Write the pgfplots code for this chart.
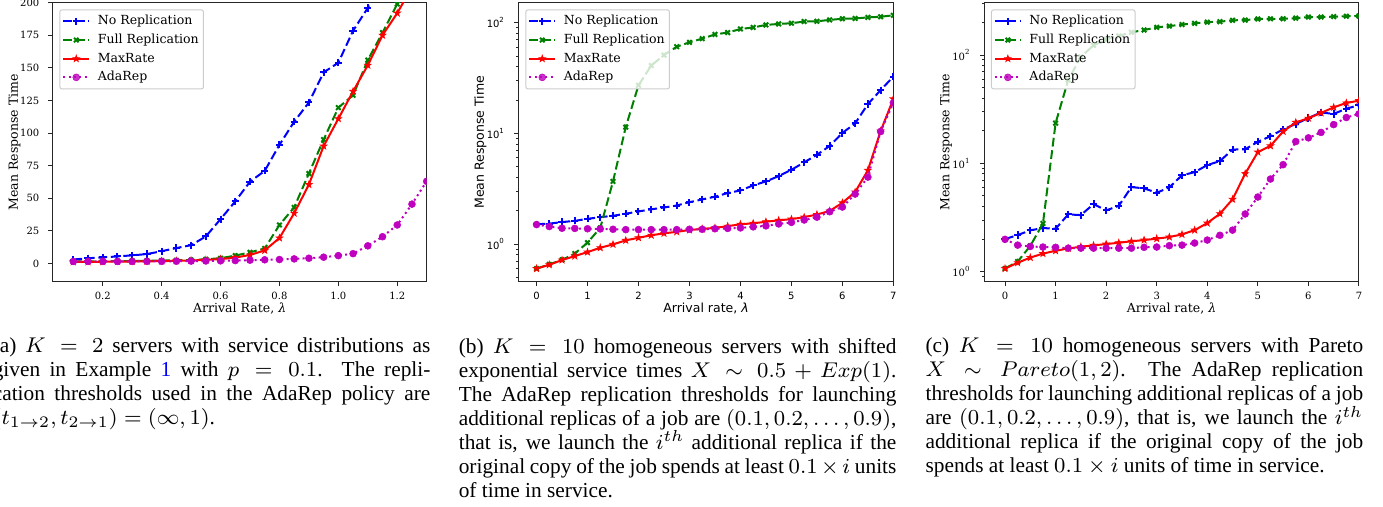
\documentclass[border=0pt]{standalone}
\usepackage{fontspec}
\setmainfont{Liberation Serif}
\newfontfamily\dvserif{DejaVu Serif}
\newfontfamily\dvsans{DejaVu Sans}
\usepackage{pgfplots}
\pgfplotsset{compat=1.18}

\definecolor{mplblue}{rgb}{0,0,1}
\definecolor{mplgreen}{rgb}{0,0.5,0}
\definecolor{mplred}{rgb}{1,0,0}
\definecolor{mplmag}{rgb}{0.75,0,0.75}

\pgfdeclareplotmark{fstar}{%
  \pgfpathmoveto{\pgfpointpolar{90}{\pgfplotmarksize}}%
  \pgfpathlineto{\pgfpointpolar{126}{0.4\pgfplotmarksize}}%
  \pgfpathlineto{\pgfpointpolar{162}{\pgfplotmarksize}}%
  \pgfpathlineto{\pgfpointpolar{198}{0.4\pgfplotmarksize}}%
  \pgfpathlineto{\pgfpointpolar{234}{\pgfplotmarksize}}%
  \pgfpathlineto{\pgfpointpolar{270}{0.4\pgfplotmarksize}}%
  \pgfpathlineto{\pgfpointpolar{306}{\pgfplotmarksize}}%
  \pgfpathlineto{\pgfpointpolar{342}{0.4\pgfplotmarksize}}%
  \pgfpathlineto{\pgfpointpolar{18}{\pgfplotmarksize}}%
  \pgfpathlineto{\pgfpointpolar{54}{0.4\pgfplotmarksize}}%
  \pgfpathclose\pgfusepathqfillstroke}

\newcommand\tickfs{\fontsize{3.75}{4.5}\selectfont}
\newcommand\labfs{\fontsize{4.7}{5.6}\selectfont}

\pgfplotsset{
  mplaxis/.style={
    scale only axis, height=104.625pt, anchor=south west,
    axis line style={black!85, line width=0.37pt},
    tick align=outside, xtick pos=bottom, ytick pos=left,
    major tick length=1.7pt, minor tick length=0.9pt,
    every tick/.style={black!85, line width=0.37pt},
    /pgf/number format/assume math mode=true,
    xticklabel style={yshift=1.4pt},
    yticklabel style={xshift=0.2pt},
    xlabel style={at={(axis description cs:0.5,-0.0946)}, anchor=center},
    ylabel style={at={(axis description cs:-0.102,0.5)}, anchor=center},
    legend style={at={(0,1)}, anchor=north west, xshift=2.5pt, yshift=-2.5pt,
      draw=black!20, line width=0.37pt, rounded corners=0.8pt, fill=white,
      fill opacity=0.8, text opacity=1, font=\labfs\dvserif,
      inner xsep=0.9pt, inner ysep=1.2pt, row sep=0.75pt, column sep=1.95pt,
      nodes={inner sep=0.9pt, text height=3.5pt, text depth=0.95pt, font=\labfs\dvserif}},
    legend cell align=left,
    legend image code/.code={\draw[mark repeat=2,mark phase=2,##1]
      plot coordinates {(0pt,0pt)(4.875pt,0pt)(9.75pt,0pt)};},
    clip marker paths=true,
  },
  noRep/.style={mplblue, line width=0.75pt, dash pattern=on 3.3pt off 1.4pt,
    mark=+, mark size=1.35pt, mark options={solid, line width=0.75pt}},
  fullRep/.style={mplgreen, line width=0.75pt, dash pattern=on 3.3pt off 1.4pt,
    mark=x, mark size=1.2pt, mark options={solid, line width=0.75pt}},
  maxRate/.style={mplred, line width=0.75pt, solid,
    mark=fstar, mark size=1.25pt, mark options={solid, line width=0.3pt, fill=mplred}},
  adaRep/.style={mplmag, line width=0.75pt, dash pattern=on 0.75pt off 1.25pt,
    mark=*, mark size=1.3pt, mark options={solid, draw=mplmag, fill=mplmag, line width=0.2pt}},
}

\begin{document}
\begin{tikzpicture}
\path[use as bounding box, clip] (0,0) rectangle (518.625pt,-190.125pt);

% ---------------- (a)
\begin{axis}[mplaxis, at={(19.76pt,-105.64pt)}, width=140.25pt,
  xmin=0.03, xmax=1.3, ymin=-14, ymax=200,
  xtick={0.2,0.4,0.6,0.8,1.0,1.2}, xticklabels={0.2,0.4,0.6,0.8,1.0,1.2},
  ytick={0,25,50,75,100,125,150,175,200},
  tick label style={font=\tickfs\dvserif},
  label style={font=\labfs\dvserif},
  xlabel={Arrival Rate, {\itshape λ}}, ylabel={Mean Response Time}]
\addplot[noRep] coordinates {(0.1,3)(0.15,4)(0.2,4.6)(0.25,5.4)(0.3,6.2)(0.35,7.2)(0.4,9.4)(0.45,11.8)(0.5,14)(0.55,20.7)(0.6,34)(0.65,47.6)(0.7,62.7)(0.75,71)(0.8,91)(0.85,108.7)(0.9,123.5)(0.95,146.5)(1.0,154)(1.05,178.5)(1.1,196)(1.15,220)(1.2,240)};
\addlegendentry{No Replication}
\addplot[fullRep] coordinates {(0.1,1.5)(0.15,1.6)(0.2,1.7)(0.25,1.8)(0.3,1.9)(0.35,2)(0.4,2.2)(0.45,2.4)(0.5,2.7)(0.55,3.2)(0.6,4)(0.65,6)(0.7,8.5)(0.75,11.5)(0.8,29.5)(0.85,43)(0.9,69)(0.95,95)(1.0,119.5)(1.05,129)(1.1,156)(1.15,177)(1.2,199)(1.25,218)(1.3,240)};
\addlegendentry{Full Replication}
\addplot[maxRate] coordinates {(0.1,1.2)(0.15,1.2)(0.2,1.3)(0.25,1.4)(0.3,1.5)(0.35,1.6)(0.4,1.8)(0.45,2.0)(0.5,2.3)(0.55,2.7)(0.6,3.3)(0.65,4.5)(0.7,6.5)(0.75,10)(0.8,19.5)(0.85,38.5)(0.9,60.5)(0.95,90)(1.0,111)(1.05,132)(1.1,152)(1.15,175)(1.2,192)(1.25,212)(1.3,230)};
\addlegendentry{MaxRate}
\addplot[adaRep] coordinates {(0.1,1.5)(0.15,1.5)(0.2,1.5)(0.25,1.5)(0.3,1.5)(0.35,1.6)(0.4,1.6)(0.45,1.7)(0.5,1.8)(0.55,1.9)(0.6,2)(0.65,2.2)(0.7,2.5)(0.75,2.8)(0.8,3)(0.85,3.5)(0.9,4)(0.95,4.8)(1.0,6)(1.05,7.5)(1.1,13.5)(1.15,20.5)(1.2,29.5)(1.25,45.5)(1.3,63)(1.35,85)};
\addlegendentry{AdaRep}
\end{axis}

% ---------------- (b)
\begin{axis}[mplaxis, at={(194.51pt,-105.64pt)}, width=140.5pt,
  ymode=log, xmin=-0.35, xmax=7.0, ymin=0.457, ymax=151.7,
  xtick={0,1,2,3,4,5,6,7},
  ytick={1,10,100}, yticklabels={10\textsuperscript{0},10\textsuperscript{1},10\textsuperscript{2}},
  minor ytick={0.5,0.6,0.7,0.8,0.9,2,3,4,5,6,7,8,9,20,30,40,50,60,70,80,90},
  tick label style={font=\tickfs\dvsans},
  label style={font=\labfs\dvsans},
  xlabel={Arrival rate, {\itshape λ}}, ylabel={Mean Response Time}]
\addplot[noRep] coordinates {(0,1.51)(0.25,1.53)(0.5,1.58)(0.75,1.62)(1.0,1.69)(1.25,1.75)(1.5,1.80)(1.75,1.88)(2.0,1.97)(2.25,2.06)(2.5,2.14)(2.75,2.23)(3.0,2.39)(3.25,2.53)(3.5,2.68)(3.75,2.89)(4.0,3.05)(4.25,3.39)(4.5,3.68)(4.75,4.11)(5.0,4.69)(5.25,5.47)(5.5,6.41)(5.75,7.69)(6.0,10.1)(6.25,12.3)(6.5,18.4)(6.75,24.6)(7.0,32.6)};
\addlegendentry{No Replication}
\addplot[fullRep] coordinates {(0,0.60)(0.25,0.655)(0.5,0.72)(0.75,0.82)(1.0,1.03)(1.25,1.40)(1.5,3.68)(1.75,11.4)(2.0,27.2)(2.25,41)(2.5,51)(2.75,60.7)(3.0,66.5)(3.25,71.8)(3.5,78.4)(3.75,81.5)(4.0,87.7)(4.25,90.6)(4.5,95.5)(4.75,97.5)(5.0,98.9)(5.25,102.5)(5.5,103)(5.75,106)(6.0,108.6)(6.25,109.3)(6.5,111.7)(6.75,113.2)(7.0,116.7)};
\addlegendentry{Full Replication}
\addplot[maxRate] coordinates {(0,0.60)(0.25,0.65)(0.5,0.717)(0.75,0.779)(1.0,0.846)(1.25,0.926)(1.5,0.993)(1.75,1.08)(2.0,1.14)(2.25,1.20)(2.5,1.25)(2.75,1.29)(3.0,1.34)(3.25,1.37)(3.5,1.40)(3.75,1.45)(4.0,1.51)(4.25,1.54)(4.5,1.59)(4.75,1.64)(5.0,1.68)(5.25,1.75)(5.5,1.85)(5.75,1.99)(6.0,2.36)(6.25,2.95)(6.5,4.64)(6.75,10.5)(7.0,20.5)};
\addlegendentry{MaxRate}
\addplot[adaRep] coordinates {(0,1.50)(0.25,1.44)(0.5,1.39)(0.75,1.385)(1.0,1.375)(1.25,1.37)(1.5,1.36)(1.75,1.35)(2.0,1.35)(2.25,1.35)(2.5,1.35)(2.75,1.35)(3.0,1.36)(3.25,1.36)(3.5,1.375)(3.75,1.385)(4.0,1.40)(4.25,1.43)(4.5,1.46)(4.75,1.52)(5.0,1.57)(5.25,1.65)(5.5,1.75)(5.75,1.96)(6.0,2.16)(6.25,2.83)(6.5,4.03)(6.75,10.4)(7.0,18.9)};
\addlegendentry{AdaRep}
\end{axis}

% ---------------- (c)
\begin{axis}[mplaxis, at={(369.11pt,-105.64pt)}, width=140.5pt,
  ymode=log, xmin=-0.41, xmax=7.0, ymin=0.809, ymax=304,
  xtick={0,1,2,3,4,5,6,7},
  ytick={1,10,100}, yticklabels={10\textsuperscript{0},10\textsuperscript{1},10\textsuperscript{2}},
  minor ytick={0.9,2,3,4,5,6,7,8,9,20,30,40,50,60,70,80,90,200,300},
  tick label style={font=\tickfs\dvserif},
  label style={font=\labfs\dvserif},
  xlabel={Arrival rate, {\itshape λ}}, ylabel={Mean Response Time}]
\addplot[noRep] coordinates {(0,2.00)(0.25,2.18)(0.5,2.41)(0.75,2.53)(1.0,2.49)(1.25,3.38)(1.5,3.33)(1.75,4.21)(2.0,3.68)(2.25,4.06)(2.5,6.04)(2.75,5.88)(3.0,5.35)(3.25,6.00)(3.5,7.77)(3.75,8.29)(4.0,9.64)(4.25,10.5)(4.5,13.4)(4.75,13.5)(5.0,15.8)(5.25,17.8)(5.5,20.6)(5.75,23.1)(6.0,26.2)(6.25,29.5)(6.5,28.6)(6.75,32.0)(7.0,34.4)};
\addlegendentry{No Replication}
\addplot[fullRep] coordinates {(0,1.07)(0.25,1.24)(0.5,1.73)(0.75,2.79)(1.0,23.5)(1.25,58.8)(1.5,96)(1.75,123)(2.0,139)(2.25,150)(2.5,162)(2.75,170)(3.0,180)(3.25,185)(3.5,191)(3.75,196)(4.0,201)(4.25,203)(4.5,209)(4.75,210)(5.0,215)(5.25,216)(5.5,216)(5.75,219)(6.0,224)(6.25,224)(6.5,226)(6.75,228)(7.0,229)};
\addlegendentry{Full Replication}
\addplot[maxRate] coordinates {(0,1.07)(0.25,1.21)(0.5,1.35)(0.75,1.47)(1.0,1.56)(1.25,1.64)(1.5,1.70)(1.75,1.75)(2.0,1.80)(2.25,1.85)(2.5,1.91)(2.75,1.96)(3.0,2.02)(3.25,2.09)(3.5,2.21)(3.75,2.42)(4.0,2.81)(4.25,3.43)(4.5,4.66)(4.75,8.03)(5.0,12.7)(5.25,14.5)(5.5,19.7)(5.75,23.9)(6.0,26.1)(6.25,29.2)(6.5,32.9)(6.75,36.1)(7.0,37.9)};
\addlegendentry{MaxRate}
\addplot[adaRep] coordinates {(0,1.99)(0.25,1.76)(0.5,1.71)(0.75,1.69)(1.0,1.68)(1.25,1.65)(1.5,1.65)(1.75,1.65)(2.0,1.65)(2.25,1.65)(2.5,1.65)(2.75,1.68)(3.0,1.69)(3.25,1.74)(3.5,1.76)(3.75,1.84)(4.0,1.96)(4.25,2.17)(4.5,2.42)(4.75,3.41)(5.0,4.89)(5.25,7.17)(5.5,9.73)(5.75,15.9)(6.0,17.2)(6.25,19.3)(6.5,22.8)(6.75,26.5)(7.0,28.6)};
\addlegendentry{AdaRep}
\end{axis}

% ---------------- captions
\tikzset{capt/.style={anchor=north west, inner sep=0pt, text width=164.1pt, align=justify,
  font=\fontsize{8}{9}\selectfont}}
\node[capt] at (-2.89pt,-126.6pt) {(a) $K = 2$ servers with service distributions as\linebreak
given in Example \textcolor{blue}{1} with $p = 0.1$. The repli-\linebreak
cation thresholds used in the AdaRep policy are\linebreak
$(t_{1\to2}, t_{2\to1}) = (\infty, 1)$.};
\node[capt] at (171.86pt,-126.6pt) {(b) $K = 10$ homogeneous servers with shifted\linebreak
exponential service times $X \sim 0.5 + Exp(1)$.\linebreak
The AdaRep replication thresholds for launching\linebreak
additional replicas of a job are $(0.1, 0.2, \ldots, 0.9)$,\linebreak
that is, we launch the $i^{th}$ additional replica if the\linebreak
original copy of the job spends at least $0.1\times i$ units\linebreak
of time in service.};
\node[capt] at (346.9pt,-126.6pt) {(c) $K = 10$ homogeneous servers with Pareto\linebreak
$X \sim Pareto(1,2)$. The AdaRep replication\linebreak
thresholds for launching additional replicas of a job\linebreak
are $(0.1, 0.2, \ldots, 0.9)$, that is, we launch the $i^{th}$\linebreak
additional replica if the original copy of the job\linebreak
spends at least $0.1 \times i$ units of time in service.};
\end{tikzpicture}
\end{document}
